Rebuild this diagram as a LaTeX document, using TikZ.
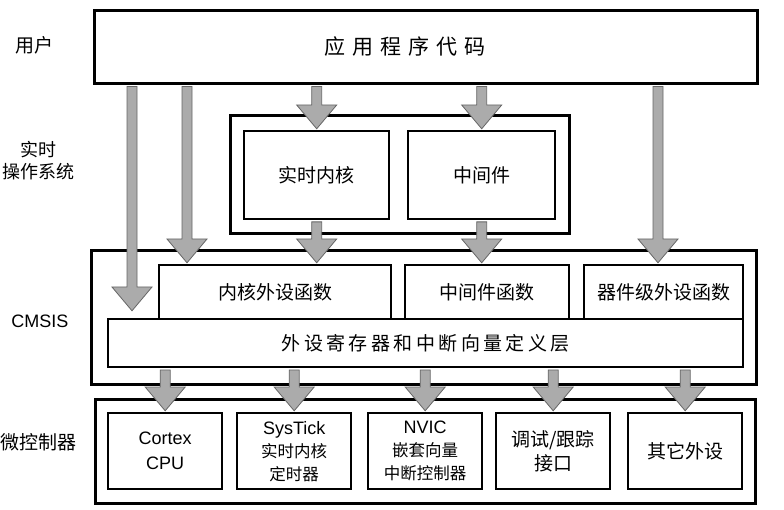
\documentclass[tikz,border=0pt]{standalone}
\usepackage{fontspec}
\setmainfont{Liberation Sans}
\newfontfamily\cjk{Noto Sans CJK SC}
\newcommand\smcjk{\cjk\fontsize{16.5}{23}\selectfont}
\usetikzlibrary{calc}
\tikzset{
  layer/.style={draw=black,line width=3pt,fill=white,anchor=north west,inner sep=0pt},
  blk/.style={draw=black,line width=2.4pt,fill=white,anchor=north west,inner sep=0pt,
    align=center,font=\cjk\fontsize{19}{24}\selectfont},
  side/.style={align=center,font=\cjk\fontsize{19}{22}\selectfont},
  % thick grey block arrow
  garrow/.style={fill=black!33,draw=black!60,line width=0.8pt,
    to path={let \p1=(\tikztostart),\p2=(\tikztotarget) in
      (\x1-5pt,\y1-1.5pt) -- (\x1-5pt,\y2+25pt) -- (\x1-20pt,\y2+25pt) -- (\x1,\y2+1.2pt)
      -- (\x1+20pt,\y2+25pt) -- (\x1+5pt,\y2+25pt) -- (\x1+5pt,\y1-1.5pt) -- cycle}},
}

\begin{document}
\begin{tikzpicture}[x=1pt,y=-1pt]
  \useasboundingbox (0,0) rectangle (784,510);
  % layer names
  \node[side] (lusr) at (35,45) {用户};
  \node[side,font=\cjk\fontsize{18}{22}\selectfont] (lrtos) at (38,161) {实时\\操作系统};
  \node[side,font=\fontsize{18}{22}\selectfont] (lcms) at (40,321) {CMSIS};
  \node[side] (lmcu) at (39,442) {微控制器};
  % user
  \node[layer,minimum width=663pt,minimum height=73pt,
    font=\cjk\fontsize{21}{24}\selectfont\addfontfeature{LetterSpace=34}] (app) at (93,9)
    {应用程序代码\hspace*{42pt}};
  % rtos
  \node[layer,minimum width=339pt,minimum height=118pt] (rtos) at (229,114) {};
  \node[blk,minimum width=145pt,minimum height=88pt] (rtk) at (243,130) {实时内核};
  \node[blk,minimum width=147pt,minimum height=88pt] (mid) at (407,130) {中间件};
  % cmsis
  \node[layer,minimum width=665pt,minimum height=134pt] (cms) at (90,249) {};
  \node[blk,minimum width=232pt,minimum height=54pt] (kfun) at (158,264) {内核外设函数};
  \node[blk,minimum width=164pt,minimum height=54pt] (mfun) at (404,264) {中间件函数};
  \node[blk,minimum width=159pt,minimum height=54pt] (dfun) at (583,264) {器件级外设函数};
  \node[blk,minimum width=635pt,minimum height=48pt,
    font=\cjk\fontsize{19}{24}\selectfont\addfontfeature{LetterSpace=18}] (reg) at (107,318)
    {外设寄存器和中断向量定义层};
  % mcu
  \node[layer,minimum width=660pt,minimum height=104pt] (mcu) at (94,398) {};
  \node[blk,minimum width=114pt,minimum height=76pt,font=\fontsize{18}{25}\selectfont] (cpu) at (107,412)
    {Cortex\\CPU};
  \node[blk,minimum width=114pt,minimum height=76pt,font=\fontsize{18}{23}\selectfont] (systick) at (236,412)
    {SysTick\\{\smcjk 实时内核}\\{\smcjk 定时器}};
  \node[blk,minimum width=114pt,minimum height=76pt,font=\fontsize{18}{23}\selectfont] (nvic) at (367,412)
    {NVIC\\{\smcjk 嵌套向量}\\{\smcjk 中断控制器}};
  \node[blk,minimum width=114pt,minimum height=76pt] (dbg) at (495,412) {调试/跟踪\\接口};
  \node[blk,minimum width=114pt,minimum height=76pt] (oth) at (627,412) {其它外设};

  % arrows
  \coordinate (t1) at (132,312);
  \coordinate (t2) at (187,0);
  \coordinate (t5) at (658,0);
  \draw[garrow] (app.south -| t1) to (t1);
  \draw[garrow] (app.south -| t2) to (kfun.north -| t2);
  \draw[garrow] (app.south -| rtk.north) to (rtk.north);
  \draw[garrow] (app.south -| mid.north) to (mid.north);
  \draw[garrow] (app.south -| t5) to (dfun.north -| t5);
  \draw[garrow] (rtk.south) to (kfun.north -| rtk.south);
  \draw[garrow] (mid.south) to (mfun.north -| mid.south);
  \foreach \b in {cpu,systick,nvic,dbg,oth} \draw[garrow] (reg.south -| \b.north) to (\b.north);
\end{tikzpicture}
\end{document}
